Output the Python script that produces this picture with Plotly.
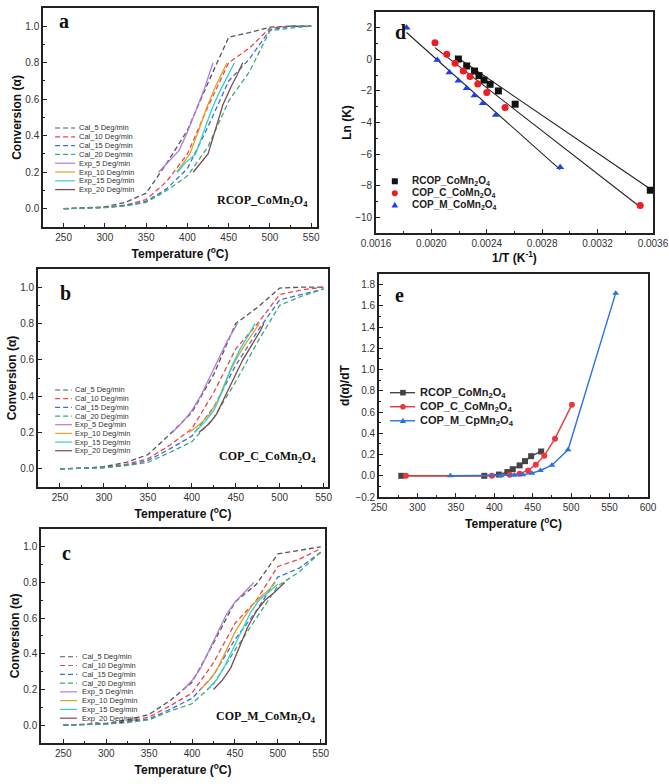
import plotly.graph_objects as go

# ---- conversion panels (a, b, c) ----
cal_T = [250, 275, 300, 325, 350, 375, 400, 425, 450, 475, 500, 525, 550]
rates = ["5", "10", "15", "20"]

a_cal = [
    [0, 0.003, 0.01, 0.035, 0.085, 0.25, 0.43, 0.69, 0.94, 0.965, 0.995, 1.0, 1.0],
    [0, 0.002, 0.008, 0.02, 0.05, 0.15, 0.30, 0.56, 0.80, 0.88, 0.99, 1.0, 1.0],
    [0, 0.002, 0.007, 0.018, 0.04, 0.11, 0.22, 0.45, 0.70, 0.82, 0.98, 1.0, 1.0],
    [0, 0.002, 0.006, 0.015, 0.035, 0.10, 0.18, 0.34, 0.59, 0.75, 0.975, 0.99, 1.0],
]
a_exp_T = [
    [365, 380, 390, 400, 410, 420, 431],
    [387, 403, 413, 423, 433, 442, 448],
    [388, 397, 410, 420, 430, 440, 450, 457],
    [407, 425, 433, 443, 453, 460, 467],
]
a_exp = [
    [0.2, 0.27, 0.32, 0.42, 0.53, 0.65, 0.8],
    [0.2, 0.3, 0.42, 0.55, 0.66, 0.75, 0.8],
    [0.2, 0.25, 0.3, 0.42, 0.55, 0.65, 0.74, 0.8],
    [0.2, 0.3, 0.42, 0.57, 0.67, 0.73, 0.8],
]

b_cal = [
    [0, 0.003, 0.012, 0.035, 0.078, 0.19, 0.31, 0.52, 0.80, 0.89, 0.995, 1.0, 1.0],
    [0, 0.002, 0.008, 0.025, 0.055, 0.13, 0.22, 0.42, 0.66, 0.80, 0.96, 0.985, 1.0],
    [0, 0.002, 0.007, 0.02, 0.045, 0.11, 0.18, 0.34, 0.57, 0.76, 0.93, 0.96, 0.99],
    [0, 0.002, 0.006, 0.018, 0.035, 0.09, 0.15, 0.28, 0.48, 0.70, 0.90, 0.95, 0.99],
]
b_exp_T = [
    [378, 390, 400, 410, 420, 430, 440, 452],
    [397, 410, 420, 430, 440, 450, 460, 470, 477],
    [403, 415, 425, 435, 445, 455, 465, 472],
    [408, 420, 428, 438, 448, 458, 468, 478, 482],
]
b_exp = [
    [0.2, 0.26, 0.32, 0.4, 0.5, 0.6, 0.7, 0.8],
    [0.2, 0.25, 0.3, 0.38, 0.5, 0.6, 0.68, 0.75, 0.8],
    [0.2, 0.26, 0.32, 0.43, 0.56, 0.66, 0.74, 0.8],
    [0.2, 0.25, 0.3, 0.4, 0.5, 0.6, 0.68, 0.76, 0.8],
]

c_cal = [
    [0, 0.003, 0.01, 0.03, 0.06, 0.14, 0.24, 0.46, 0.69, 0.79, 0.96, 0.98, 1.0],
    [0, 0.002, 0.008, 0.022, 0.045, 0.11, 0.18, 0.35, 0.57, 0.70, 0.89, 0.93, 0.99],
    [0, 0.002, 0.007, 0.018, 0.035, 0.09, 0.15, 0.28, 0.48, 0.64, 0.83, 0.88, 0.97],
    [0, 0.002, 0.006, 0.015, 0.03, 0.08, 0.12, 0.23, 0.42, 0.60, 0.78, 0.86, 0.97],
]
c_exp_T = [
    [390, 400, 410, 420, 430, 440, 450, 460, 472],
    [410, 420, 430, 440, 450, 460, 470, 480, 490, 497],
    [418, 428, 438, 448, 458, 468, 478, 490, 500],
    [425, 435, 445, 455, 465, 475, 485, 495, 508],
]
c_exp = [
    [0.2, 0.25, 0.32, 0.42, 0.52, 0.62, 0.69, 0.74, 0.8],
    [0.2, 0.25, 0.32, 0.42, 0.52, 0.6, 0.67, 0.72, 0.76, 0.8],
    [0.2, 0.25, 0.33, 0.43, 0.53, 0.63, 0.7, 0.75, 0.79],
    [0.2, 0.25, 0.32, 0.43, 0.55, 0.64, 0.7, 0.74, 0.8],
]

cal_colors = ["#555555", "#e8474b", "#3a6fdc", "#3ea87a"]
exp_colors = ["#b37be0", "#e8a020", "#2fd0d0", "#7e4b4b"]

# ---- panel d: Arrhenius plot ----
d_names = ["RCOP_CoMn<sub>2</sub>O<sub>4</sub>", "COP_C_CoMn<sub>2</sub>O<sub>4</sub>",
           "COP_M_CoMn<sub>2</sub>O<sub>4</sub>"]
d_invT = [
    [0.002195, 0.002255, 0.002311, 0.002344, 0.00238, 0.002424, 0.002484, 0.002605, 0.003581],
    [0.002026, 0.002111, 0.002171, 0.002231, 0.002279, 0.002335, 0.0024, 0.002532, 0.003508],
    [0.001821, 0.002043, 0.00213, 0.002195, 0.002255, 0.002311, 0.002371, 0.002465, 0.00293],
]
d_lnK = [
    [0.02, -0.42, -0.74, -1.03, -1.31, -1.58, -2.0, -2.84, -8.29],
    [1.05, 0.32, -0.25, -0.74, -1.09, -1.56, -2.1, -3.05, -9.26],
    [2.0, -0.04, -0.84, -1.35, -1.83, -2.29, -2.78, -3.52, -6.84],
]
d_fit_x = [[0.002171, 0.003581], [0.002026, 0.003508], [0.001821, 0.00293]]
d_fit_y = [[0.21, -8.21], [0.74, -9.35], [1.7, -6.99]]
d_colors = ["#111111", "#ee1c24", "#1f3fe8"]
d_symbols = ["square", "circle", "triangle-up"]

# ---- panel e: d(alpha)/dT ----
e_names = ["RCOP_CoMn<sub>2</sub>O<sub>4</sub>", "COP_C_CoMn<sub>2</sub>O<sub>4</sub>",
           "COP_M_CpMn<sub>2</sub>O<sub>4</sub>"]
e_T = [
    [279, 387, 406, 417, 424, 433, 440, 448, 461],
    [285, 397, 420, 433, 444, 454, 465, 479, 501],
    [343, 409, 426, 437, 449, 460, 475, 496, 558],
]
e_rate = [
    [0, 0, 0.012, 0.035, 0.062, 0.098, 0.138, 0.185, 0.229],
    [0, 0, 0.01, 0.02, 0.05, 0.105, 0.19, 0.35, 0.67],
    [0, 0, 0.005, 0.01, 0.025, 0.05, 0.1, 0.245, 1.72],
]
e_colors = ["#444444", "#e8383d", "#2a72e0"]
e_symbols = ["square", "circle", "triangle-up"]

SANS = "Liberation Sans, Arial, sans-serif"
SERIF = "Liberation Serif, Times New Roman, serif"
DASH = "5px,3px"

fig = go.Figure()

conv_panels = [
    ("", a_cal, a_exp_T, a_exp),
    ("2", b_cal, b_exp_T, b_exp),
    ("3", c_cal, c_exp_T, c_exp),
]
for sfx, cal, expT, expv in conv_panels:
    for i in range(4):
        fig.add_trace(go.Scatter(x=cal_T, y=cal[i], mode="lines", showlegend=False,
                                 xaxis="x" + sfx, yaxis="y" + sfx,
                                 line=dict(color=cal_colors[i], width=1.3, dash=DASH)))
    for i in range(4):
        fig.add_trace(go.Scatter(x=expT[i], y=expv[i], mode="lines", showlegend=False,
                                 xaxis="x" + sfx, yaxis="y" + sfx,
                                 line=dict(color=exp_colors[i], width=1.3)))

for i in range(3):
    fig.add_trace(go.Scatter(x=d_fit_x[i], y=d_fit_y[i], mode="lines", showlegend=False,
                             xaxis="x4", yaxis="y4", line=dict(color="#222", width=1.1)))
for i in range(3):
    fig.add_trace(go.Scatter(x=d_invT[i], y=d_lnK[i], mode="markers", showlegend=False,
                             xaxis="x4", yaxis="y4",
                             marker=dict(color=d_colors[i], symbol=d_symbols[i], size=7)))

for i in range(3):
    fig.add_trace(go.Scatter(x=e_T[i], y=e_rate[i], mode="lines+markers", showlegend=False,
                             xaxis="x5", yaxis="y5",
                             line=dict(color=e_colors[i], width=1.4),
                             marker=dict(color=e_colors[i], symbol=e_symbols[i], size=6)))


def ax(domain, rng, dtick, minor, fmt, title, anchor, standoff):
    return dict(domain=domain, range=rng, dtick=dtick, tickformat=fmt, anchor=anchor,
                automargin=False,
                showline=True, mirror=True, linecolor="#222", linewidth=1.6,
                ticks="inside", ticklen=4, tickcolor="#222", showgrid=False, zeroline=False,
                minor=dict(ticks="inside", ticklen=2, dtick=minor, tickcolor="#222"),
                tickfont=dict(family=SANS, size=10, color="#333"),
                title=dict(text=title, font=dict(family=SANS, size=12, color="#111"),
                           standoff=standoff))


temp_title = "<b>Temperature (<sup>o</sup>C)</b>"
conv_title = "<b>Conversion (α)</b>"

fig.update_layout(
    width=669, height=784, margin=dict(l=0, r=0, t=0, b=0, autoexpand=False),
    paper_bgcolor="white", plot_bgcolor="white", showlegend=False,
    xaxis=ax([0.0643, 0.4738], [225, 557], 50, 25, "d", temp_title, "y", 8),
    yaxis=ax([0.7105, 0.9898], [-0.1, 1.1], 0.2, 0.1, ".1f", conv_title, "x", 1),
    xaxis2=ax([0.0568, 0.4903], [225, 555], 50, 25, "d", temp_title, "y2", 8),
    yaxis2=ax([0.3788, 0.6569], [-0.1, 1.1], 0.2, 0.1, ".1f", conv_title, "x2", 1),
    xaxis3=ax([0.0613, 0.4858], [224, 555], 50, 25, "d", temp_title, "y3", 8),
    yaxis3=ax([0.0523, 0.3253], [-0.1, 1.1], 0.2, 0.1, ".1f", conv_title, "x3", 1),
    xaxis4=ax([0.562, 0.976], [0.0016, 0.0036], 0.0004, 0.0002, ".4f",
              "<b>1/T (K<sup>-1</sup>)</b>", "y4", 6),
    yaxis4=ax([0.7028, 0.9847], [-11, 3], 2, 1, "d", "<b>Ln (K)</b>", "x4", 1),
    xaxis5=ax([0.5665, 0.9686], [250, 600], 50, 25, "d", temp_title, "y5", 8),
    yaxis5=ax([0.366, 0.6505], [-0.2, 1.9], 0.2, 0.1, ".1f", "<b>d(α)/dT</b>", "x5", 3),
)
fig.layout.xaxis4.tick0 = 0.0016
fig.layout.yaxis5.tick0 = -0.2

shapes = []
annotations = []


def note(xref, yref, x, y, text, size, family=SANS, color="#222", xanchor="left"):
    annotations.append(dict(xref=xref, yref=yref, x=x, y=y, text=text, showarrow=False,
                            xanchor=xanchor, yanchor="middle",
                            font=dict(family=family, size=size, color=color)))


def symbol_shape(xref, yref, x, y, symbol, color, r):
    base = dict(xref=xref, yref=yref, xsizemode="pixel", ysizemode="pixel",
                xanchor=x, yanchor=y, fillcolor=color, line=dict(width=0))
    if symbol == "square":
        base.update(type="rect", x0=-r, x1=r, y0=-r, y1=r)
    elif symbol == "circle":
        base.update(type="circle", x0=-r, x1=r, y0=-r, y1=r)
    else:
        base.update(type="path", path=f"M {-r*1.1} {-r*0.8} L {r*1.1} {-r*0.8} L 0 {r*1.1} Z")
    shapes.append(base)


# manual legends for conversion panels
conv_legends = [
    ("", 0.044, 0.117, 0.124, 0.452, 0.0402),
    ("2", 0.059, 0.117, 0.121, 0.445, 0.0398),
    ("3", 0.067, 0.127, 0.137, 0.403, 0.041),
]
for sfx, lx0, lx1, tx, y0, dy in conv_legends:
    xr = "x" + sfx + " domain"
    yr = "y" + sfx + " domain"
    for k in range(8):
        yk = y0 - k * dy
        if k < 4:
            col, dash, lab = cal_colors[k], DASH, "Cal_" + rates[k] + " Deg/min"
        else:
            col, dash, lab = exp_colors[k - 4], "solid", "Exp_" + rates[k - 4] + " Deg/min"
        shapes.append(dict(type="line", xref=xr, yref=yr, x0=lx0, x1=lx1, y0=yk, y1=yk,
                           line=dict(color=col, width=1.2, dash=dash)))
        note(xr, yr, tx, yk, lab, 7.5, color="#333")

# panel letters and sample names
for sfx, lx, ly, letter in [("", 0.05, 0.94, "a"), ("2", 0.07, 0.89, "b"), ("3", 0.067, 0.888, "c"),
                            ("4", 0.062, 0.91, "d"), ("5", 0.052, 0.906, "e")]:
    note("x" + sfx + " domain", "y" + sfx + " domain", lx, ly, "<b>" + letter + "</b>", 20,
         family=SERIF, color="#111")

for sfx, nx, ny, name in [("", 0.974, 0.119, "RCOP_CoMn<sub>2</sub>O<sub>4</sub>"),
                          ("2", 0.966, 0.138, "COP_C_CoMn<sub>2</sub>O<sub>4</sub>"),
                          ("3", 0.975, 0.121, "COP_M_CoMn<sub>2</sub>O<sub>4</sub>")]:
    note("x" + sfx + " domain", "y" + sfx + " domain", nx, ny, "<b>" + name + "</b>", 12,
         family=SERIF, color="#111", xanchor="right")

# panel d legend
for k, yk in enumerate([0.234, 0.18, 0.126]):
    symbol_shape("x4 domain", "y4 domain", 0.068, yk, d_symbols[k], d_colors[k], 3)
    note("x4 domain", "y4 domain", 0.122, yk, "<b>" + d_names[k] + "</b>", 10, color="#222")

# panel e legend
for k, yk in enumerate([0.468, 0.405, 0.342]):
    shapes.append(dict(type="line", xref="x5 domain", yref="y5 domain", x0=0.041, x1=0.134,
                       y0=yk, y1=yk, line=dict(color=e_colors[k], width=1.4)))
    symbol_shape("x5 domain", "y5 domain", 0.089, yk, e_symbols[k], e_colors[k], 2.8)
    note("x5 domain", "y5 domain", 0.145, yk, "<b>" + e_names[k] + "</b>", 11, color="#222")

fig.update_layout(shapes=shapes, annotations=annotations)

fig.write_html("out.html", config={"displayModeBar": False},
               post_script="document.body.style.margin = '0';")
